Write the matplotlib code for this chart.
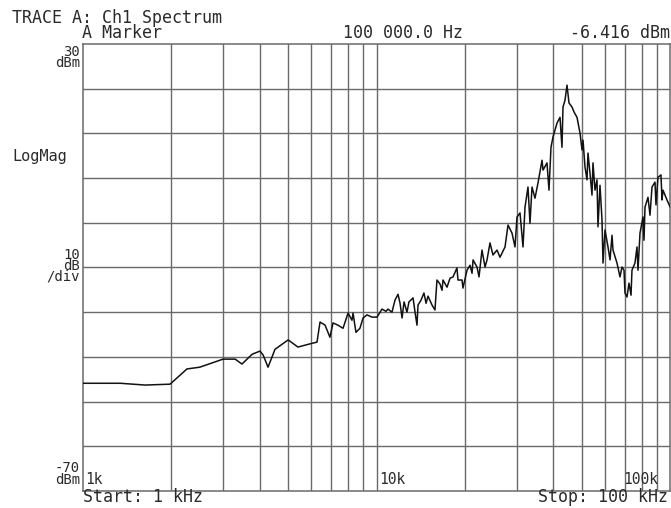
import matplotlib
matplotlib.use("Agg")
import matplotlib.pyplot as plt

# Ch1 spectrum, 1 kHz .. 100 kHz, level in dBm
freq_khz = [1.00, 1.34, 1.63, 1.98, 2.26, 2.50, 3.00, 3.30, 3.48, 3.77, 4.01,
            4.11, 4.27, 4.51, 5.00, 5.40, 6.08, 6.27, 6.42, 6.68, 6.94, 7.11,
            7.39, 7.69, 8.00, 8.25, 8.32, 8.51, 8.78, 9.00, 9.28, 9.65, 10.04,
            10.44, 10.77, 10.94, 11.29, 11.56, 11.84, 12.03, 12.22, 12.41,
            12.70, 12.90, 13.32, 13.53, 13.74, 13.85, 14.18, 14.51, 14.75,
            14.98, 15.46, 15.82, 16.07, 16.46, 16.72, 16.85, 17.39, 17.80,
            18.23, 18.80, 18.95, 19.56, 19.71, 20.34, 20.83, 21.16, 21.33,
            22.00, 22.35, 22.88, 23.43, 23.80, 24.36, 24.94, 25.74, 26.35,
            27.41, 28.06, 28.95, 29.64, 30.11, 30.83, 31.56, 32.06, 32.82,
            33.34, 33.87, 34.67, 35.50, 36.64, 36.93, 38.10, 38.70, 39.31,
            39.94, 41.21, 42.19, 42.85, 43.19, 43.87, 44.57, 45.28, 46.36,
            47.09, 48.21, 49.36, 50.14, 50.53, 51.33, 52.15, 52.55, 53.38,
            54.23, 54.65, 55.52, 56.40, 56.84, 57.74, 58.66, 59.12, 60.05,
            61.49, 62.46, 63.45, 63.94, 65.98, 67.54, 68.62, 69.71, 70.25,
            71.36, 72.49, 73.65, 74.21, 75.97, 77.19, 77.80, 79.03, 80.91,
            81.55, 82.19, 84.14, 85.48, 86.83, 88.89, 89.59, 91.00, 93.18,
            93.91, 94.65, 97.68, 100.0]
level_dbm = [-45.9, -45.9, -46.3, -46.1, -42.7, -42.3, -40.5, -40.5, -41.6,
             -39.4, -38.7, -39.6, -42.3, -38.3, -36.2, -37.8, -36.9, -36.7,
             -32.2, -32.9, -35.6, -32.4, -32.9, -33.6, -30.2, -31.8, -30.2,
             -34.5, -33.6, -31.3, -30.6, -31.1, -31.1, -29.3, -29.8, -29.3,
             -30.0, -27.3, -26.0, -28.0, -31.3, -27.7, -30.0, -27.7, -26.8,
             -30.0, -32.9, -28.4, -27.3, -25.7, -28.0, -26.4, -28.4, -29.5,
             -22.8, -23.7, -25.1, -22.8, -24.4, -22.4, -22.1, -20.1, -22.8,
             -22.8, -24.6, -20.6, -19.5, -21.3, -18.3, -19.9, -22.1, -16.1,
             -19.9, -18.3, -14.5, -17.2, -16.1, -17.7, -15.4, -10.5, -12.3,
             -15.4, -8.7, -7.8, -15.4, -6.5, -2.0, -10.1, -2.0, -4.5, -1.1,
             4.0, 1.8, 3.4, -2.7, 6.9, 9.2, 12.3, 13.6, 6.9, 15.9, 17.4, 20.8,
             16.8, 15.9, 14.8, 13.6, 10.1, 6.3, 8.5, 2.5, -0.4, 5.6, 1.1,
             -3.8, 3.4, -2.7, -0.4, -10.9, -1.6, -9.4, -19.0, -11.6, -15.4,
             -18.3, -12.8, -16.1, -19.0, -22.1, -19.9, -20.6, -25.7, -26.6,
             -23.5, -26.2, -20.6, -19.0, -15.4, -20.6, -12.3, -8.7, -13.9,
             -6.5, -4.3, -8.3, -2.0, -0.9, -6.0, 0.2, 0.7, -4.9, -2.7, -4.9,
             -6.4]

minor_khz = [2, 3, 4, 5, 6, 7, 8, 9, 10, 20, 30, 40, 50, 60, 70, 80, 90]
level_lines = [-60, -50, -40, -30, -20, -10, 0, 10, 20]

W, H = 671, 508
ink = "#2a2a2a"
grid_col = "#6a6a6a"
mono = "DejaVu Sans Mono"

fig = plt.figure(figsize=(W / 100, H / 100), dpi=100)
fig.patch.set_facecolor("white")
ax = fig.add_axes([83 / W, 1 - 491 / H, 587 / W, 447 / H])

ax.set_xscale("log")
ax.set_xlim(1, 100)
ax.set_ylim(-70, 30)
ax.set_xticks([])
ax.set_yticks([])
ax.minorticks_off()
for s in ax.spines.values():
    s.set_color(grid_col)
    s.set_linewidth(1.1)

for f in minor_khz:
    ax.axvline(f, color=grid_col, lw=1.0, zorder=1)
for lv in level_lines:
    ax.axhline(lv, color=grid_col, lw=1.0, zorder=1)

ax.plot(freq_khz, level_dbm, color="#111111", lw=1.1, zorder=3)


def label(x, y, s, size=12, ha="left", va="center", ls=1.2):
    fig.text(x / W, 1 - y / H, s, fontsize=size, family=mono, color=ink,
             ha=ha, va=va, multialignment=ha, linespacing=ls)


# header (two lines in one block)
label(12, 9, "TRACE A: Ch1 Spectrum\n       A Marker", va="top", ls=0.76)
label(343, 33, "100 000.0 Hz")
label(670, 33, "-6.416 dBm", ha="right")

# left scale, stacked text blocks
small = 10
label(80, 45, "30\ndBm", size=small, ha="right", va="top", ls=0.72)
label(12, 156, "LogMag", size=11)
label(80, 248, "10\ndB\n/div", size=small, ha="right", va="top", ls=0.72)
label(80, 461, "-70\ndBm", size=small, ha="right", va="top", ls=0.8)

# frequency labels
label(85, 480, "1k", size=10.5)
label(379, 480, "10k", size=10.5)
label(623, 480, "100k", size=10.5)
label(83, 497, "Start: 1 kHz")
label(668, 497, "Stop: 100 kHz", ha="right")

fig.savefig("out.png", dpi=100)
